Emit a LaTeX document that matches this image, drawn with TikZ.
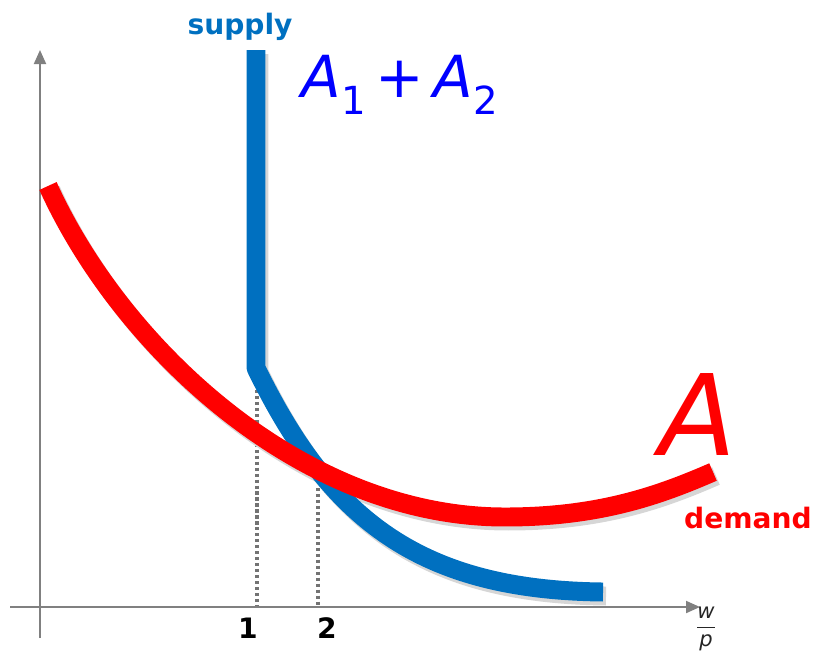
\documentclass[tikz,border=0pt]{standalone}
\usepackage{fontspec}
\setmainfont{DejaVu Sans}
\usetikzlibrary{arrows.meta}
\definecolor{csup}{HTML}{0070C0}
\definecolor{cdem}{HTML}{FF0000}
\definecolor{clab}{HTML}{0000FF}
\definecolor{caxis}{HTML}{808080}
\tikzset{
  axis/.style={draw=caxis, line width=1.1pt, -{Triangle[length=2.8mm,width=2.4mm]}},
  curve/.style={line width=10.8pt, line join=bevel},
  shade/.style={draw=black!16, line width=10.8pt, line join=bevel},
  guide/.style={draw=black!55, line width=2.2pt, dash pattern=on 1.8pt off 1.6pt},
  tag/.style={font=\fontsize{16}{18}\selectfont\bfseries, inner sep=0pt},
  tick/.style={font=\fontsize{16}{18}\selectfont\bfseries, inner sep=0pt}
}

\begin{document}
\begin{tikzpicture}[x=0.02cm, y=-0.02cm]
\useasboundingbox (0,0) rectangle (814,653);
\coordinate (xs) at (10,607); \coordinate (xe) at (700,607);
\coordinate (ys) at (40,638); \coordinate (ye) at (40,50);
\draw[axis] (xs) -- (xe);
\draw[axis] (ys) -- (ye);
\coordinate (q1) at (257,372); \coordinate (b1) at (257,606);
\coordinate (q2) at (318,488); \coordinate (b2) at (318,606);
\draw[guide] (q1) -- (b1);
\draw[guide] (q2) -- (b2);
\begin{scope}[shift={(3,4)}]
\draw[shade] (48,186) .. controls (120,345) and (300,517) .. (505,517)
  .. controls (600,517) and (660,495) .. (713,472);
\draw[shade] (256,50) -- (256,368) .. controls (330,520) and (420,590) .. (603,592);
\end{scope}
\draw[curve, csup] (256,50) -- (256,368) .. controls (330,520) and (420,590) .. (603,592);
\draw[curve, cdem] (48,186) .. controls (120,345) and (300,517) .. (505,517)
  .. controls (600,517) and (660,495) .. (713,472);
\node[tag, text=csup] (sup) at (240,27) {supply};
\node[text=clab, font=\fontsize{33}{36}\selectfont, inner sep=0pt] (sum) at (400,85)
  {\textit{A}\raisebox{-0.3em}{\fontsize{22}{24}\selectfont 1}\,+\,\textit{A}\raisebox{-0.3em}{\fontsize{22}{24}\selectfont 2}};
\node[text=cdem, font=\fontsize{64}{70}\selectfont\itshape, inner sep=0pt] (big) at (698,415) {A};
\node[tag, text=cdem] (dem) at (748,518) {demand};
\node[tick] (n1) at (248,628) {1};
\node[tick] (n2) at (327,628) {2};
\node[font=\fontsize{12}{13}\selectfont, text=black!85, inner sep=0pt] (wp) at (706,629) {$\displaystyle\frac{\textit{w}}{\textit{p}}$};
\end{tikzpicture}
\end{document}
